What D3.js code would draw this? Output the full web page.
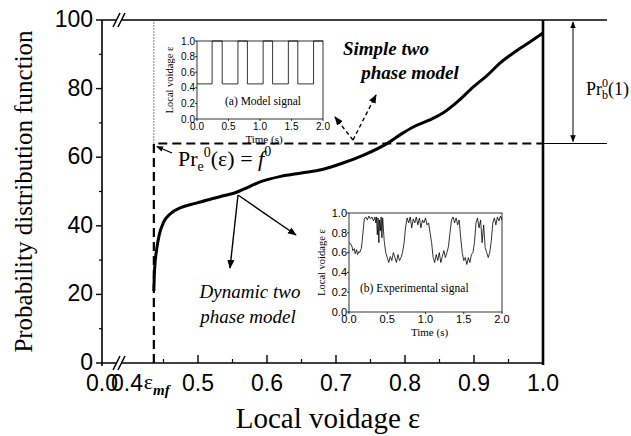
<!DOCTYPE html>
<html>
<head>
<meta charset="utf-8">
<script src="https://cdn.jsdelivr.net/npm/d3@7"></script>
<style>
body { margin: 0; background: #fff; }
.tick-label { font-family: "Liberation Sans", Arial, sans-serif; font-size: 23px; fill: #000; }
.serif { font-family: "Liberation Serif", "Times New Roman", serif; fill: #000; }
.small { font-family: "Liberation Sans", Arial, sans-serif; font-size: 10px; fill: #000; }
</style>
</head>
<body>
<div id="chart"></div>
<script>
// main chart data
const yMajor = [0, 20, 40, 60, 80, 100];
const yMinor = [10, 30, 50, 70, 90];
const xMajor = [0.5, 0.6, 0.7, 0.8, 0.9, 1.0];
const xMinor = [0.45, 0.55, 0.65, 0.75, 0.85, 0.95];
const epsMf = 0.436;
const prE = 64;
const curveEps  = [0.436, 0.437, 0.440, 0.444, 0.450, 0.460, 0.475, 0.490, 0.505, 0.520, 0.540, 0.555, 0.570, 0.590, 0.620, 0.650, 0.680, 0.710, 0.740, 0.775, 0.795, 0.812, 0.835, 0.855, 0.875, 0.899, 0.920, 0.938, 0.960, 0.981, 1.000];
const curveProb = [21, 27, 33, 37.5, 41, 43.5, 45.3, 46.2, 47.0, 47.9, 48.9, 49.7, 51.0, 52.8, 54.4, 55.4, 56.4, 58.3, 60.6, 64.1, 66.8, 68.8, 70.8, 72.9, 76.0, 80.5, 84.0, 87.5, 90.8, 93.6, 96.2];

// inset (a) model signal: switching times, levels
const modelEdges = [0, 0.24, 0.4, 0.65, 0.8, 1.05, 1.2, 1.45, 1.6, 1.85, 2.0];
const modelLow = 0.45, modelHigh = 1.0;

// inset (b) experimental signal
const expTime = [0.00,0.02,0.04,0.05,0.07,0.08,0.10,0.11,0.13,0.14,0.16,0.17,0.19,0.20,0.22,0.24,0.26,0.28,0.30,0.32,0.34,0.35,0.36,0.37,0.38,0.39,0.40,0.41,0.42,0.43,0.44,0.46,0.48,0.50,0.52,0.54,0.56,0.58,0.60,0.62,0.64,0.66,0.68,0.70,0.72,0.74,0.76,0.78,0.80,0.82,0.84,0.86,0.88,0.90,0.92,0.94,0.96,0.98,1.00,1.02,1.04,1.06,1.08,1.10,1.12,1.14,1.16,1.18,1.20,1.22,1.24,1.26,1.28,1.30,1.32,1.34,1.36,1.38,1.40,1.42,1.44,1.46,1.48,1.50,1.52,1.54,1.56,1.58,1.60,1.62,1.64,1.66,1.68,1.70,1.72,1.74,1.76,1.78,1.80,1.82,1.84,1.86,1.88,1.90,1.92,1.94,1.96,1.98,2.00];
const expVoid = [0.70,0.69,0.66,0.62,0.64,0.59,0.63,0.58,0.61,0.60,0.64,0.70,0.86,0.94,0.96,0.93,0.97,0.94,0.96,0.92,0.96,0.90,0.96,0.78,0.95,0.70,0.93,0.82,0.96,0.75,0.95,0.72,0.60,0.55,0.50,0.56,0.52,0.60,0.55,0.50,0.58,0.52,0.55,0.60,0.70,0.86,0.95,0.90,0.96,0.85,0.94,0.90,0.96,0.88,0.95,0.85,0.93,0.90,0.95,0.88,0.90,0.80,0.70,0.55,0.50,0.58,0.52,0.60,0.50,0.56,0.62,0.55,0.60,0.66,0.80,0.93,0.96,0.90,0.95,0.88,0.93,0.75,0.60,0.52,0.55,0.48,0.55,0.50,0.58,0.60,0.70,0.90,0.95,0.85,0.93,0.70,0.88,0.65,0.60,0.55,0.60,0.72,0.90,0.95,0.88,0.96,0.92,0.97,0.93];

const insetX = [0, 0.5, 1.0, 1.5, 2.0];
const insetY = [0, 0.2, 0.4, 0.6, 0.8, 1.0];

const W = 631, H = 436;
const svg = d3.select("#chart").append("svg").attr("width", W).attr("height", H);

const defs = svg.append("defs");
function marker(id, size) {
    defs.append("marker").attr("id", id)
        .attr("viewBox", "0 0 10 10").attr("refX", 9).attr("refY", 5)
        .attr("markerWidth", size).attr("markerHeight", size)
        .attr("markerUnits", "userSpaceOnUse")
        .attr("orient", "auto-start-reverse")
        .append("path").attr("d", "M0,1 L10,5 L0,9 z").attr("fill", "#000");
}
marker("arr", 9);
marker("arrSmall", 7);

const x = d3.scaleLinear().domain([0.4, 1.0]).range([129, 543]);
const y = d3.scaleLinear().domain([0, 100]).range([363, 20]);
const x0 = 102; // position of the 0.0 origin before the break

// frame
svg.append("line").attr("x1", x0).attr("x2", x0).attr("y1", y(100)).attr("y2", y(0) + 3)
    .attr("stroke", "#000").attr("stroke-width", 1.6);
svg.append("line").attr("x1", x0).attr("x2", x(1.0)).attr("y1", y(0)).attr("y2", y(0))
    .attr("stroke", "#000").attr("stroke-width", 1.6);
svg.append("line").attr("x1", x0).attr("x2", 607).attr("y1", y(100)).attr("y2", y(100))
    .attr("stroke", "#000").attr("stroke-width", 1.4);
svg.append("line").attr("x1", x(1.0)).attr("x2", x(1.0)).attr("y1", y(100)).attr("y2", y(0) + 2)
    .attr("stroke", "#000").attr("stroke-width", 2.6);

// axis breaks
[y(0), y(100)].forEach(function(yy) {
    svg.append("rect").attr("x", 117).attr("y", yy - 3).attr("width", 5).attr("height", 6).attr("fill", "#fff");
    [115, 120].forEach(function(bx) {
        svg.append("line").attr("x1", bx - 2).attr("y1", yy + 7).attr("x2", bx + 5).attr("y2", yy - 7)
            .attr("stroke", "#000").attr("stroke-width", 1.6);
    });
});

// y ticks (outward)
yMajor.forEach(function(v) {
    svg.append("line").attr("x1", x0 - 6).attr("x2", x0).attr("y1", y(v)).attr("y2", y(v))
        .attr("stroke", "#000").attr("stroke-width", 1.4);
    svg.append("text").attr("class", "tick-label").attr("x", x0 - 9).attr("y", y(v) - 1)
        .attr("dy", "0.35em").style("text-anchor", "end").text(v);
});
yMinor.forEach(function(v) {
    svg.append("line").attr("x1", x0 - 3).attr("x2", x0).attr("y1", y(v)).attr("y2", y(v))
        .attr("stroke", "#000").attr("stroke-width", 1.2);
});

// x ticks (inward)
xMajor.forEach(function(v) {
    svg.append("line").attr("x1", x(v)).attr("x2", x(v)).attr("y1", y(0)).attr("y2", y(0) - 8)
        .attr("stroke", "#000").attr("stroke-width", 1.4);
    svg.append("text").attr("class", "tick-label").attr("x", x(v)).attr("y", y(0) + 28)
        .style("text-anchor", "middle").text(d3.format(".1f")(v));
});
xMinor.forEach(function(v) {
    svg.append("line").attr("x1", x(v)).attr("x2", x(v)).attr("y1", y(0)).attr("y2", y(0) - 4)
        .attr("stroke", "#000").attr("stroke-width", 1.2);
});
svg.append("text").attr("class", "tick-label").attr("x", x0).attr("y", y(0) + 28)
    .style("text-anchor", "middle").text("0.0");
svg.append("text").attr("class", "tick-label").attr("x", x(0.4) - 2).attr("y", y(0) + 28)
    .style("text-anchor", "middle").text("0.4");
const emfLabel = svg.append("text").attr("class", "serif").attr("x", x(epsMf) - 10).attr("y", y(0) + 26)
    .style("font-size", "22px");
emfLabel.append("tspan").text("ε");
emfLabel.append("tspan").attr("dy", 6).style("font-size", "15px").style("font-style", "italic")
    .style("font-weight", "bold").text("mf");

// axis titles
svg.append("text").attr("class", "serif").attr("x", 328).attr("y", 428)
    .style("text-anchor", "middle").style("font-size", "29px").text("Local voidage ε");
svg.append("text").attr("class", "serif")
    .attr("transform", "translate(32," + ((y(0) + y(100)) / 2) + ") rotate(-90)")
    .style("text-anchor", "middle").style("font-size", "25px").text("Probability distribution function");

// simple two phase model (dashed step)
svg.append("path")
    .attr("d", d3.line()([[x(epsMf), y(0)], [x(epsMf), y(prE)], [x(1.0), y(prE)]]))
    .attr("fill", "none").attr("stroke", "#000").attr("stroke-width", 2.2).attr("stroke-dasharray", "9,5");
svg.append("line").attr("x1", x(epsMf)).attr("x2", x(epsMf)).attr("y1", y(prE)).attr("y2", y(100))
    .attr("stroke", "#000").attr("stroke-width", 1).attr("stroke-dasharray", "1,2");
svg.append("line").attr("x1", x(1.0)).attr("x2", 607).attr("y1", y(prE)).attr("y2", y(prE))
    .attr("stroke", "#000").attr("stroke-width", 1.2);

// dynamic two phase model curve
const curveData = curveEps.map(function(e, i) { return [e, curveProb[i]]; });
svg.append("path").datum(curveData)
    .attr("d", d3.line().x(function(d) { return x(d[0]); }).y(function(d) { return y(d[1]); }).curve(d3.curveMonotoneX))
    .attr("fill", "none").attr("stroke", "#000").attr("stroke-width", 3);

// Pr_b^0(1) double arrow
svg.append("line").attr("x1", 573).attr("x2", 573).attr("y1", y(100) + 2).attr("y2", y(prE) - 2)
    .attr("stroke", "#000").attr("stroke-width", 1)
    .attr("marker-start", "url(#arrSmall)").attr("marker-end", "url(#arrSmall)");
const prb = svg.append("text").attr("class", "serif").attr("x", 586).attr("y", 95).style("font-size", "18px");
prb.append("tspan").text("Pr");
prb.append("tspan").attr("dy", 4).style("font-size", "12px").text("b");
prb.append("tspan").attr("dx", -6).attr("dy", -12).style("font-size", "12px").text("0");
prb.append("tspan").attr("dy", 8).text("(1)");

// Pr_e^0(eps) = f^0
const pre = svg.append("text").attr("class", "serif").attr("x", 178).attr("y", 166).style("font-size", "22px");
pre.append("tspan").text("Pr");
pre.append("tspan").attr("dy", 5).style("font-size", "14px").text("e");
pre.append("tspan").attr("dy", -14).style("font-size", "14px").text("0");
pre.append("tspan").attr("dy", 9).text("(ε) = ");
pre.append("tspan").style("font-style", "italic").text("f");
pre.append("tspan").attr("dy", -10).style("font-size", "14px").text("0");
svg.append("line").attr("x1", 172).attr("y1", 153).attr("x2", x(epsMf) + 3).attr("y2", y(prE) + 3)
    .attr("stroke", "#000").attr("stroke-width", 1.2).attr("marker-end", "url(#arrSmall)");

// annotation: simple two phase model
svg.append("text").attr("class", "serif").attr("x", 386).attr("y", 55)
    .style("text-anchor", "middle").style("font-size", "19px").style("font-style", "italic").style("font-weight", "bold")
    .text("Simple two");
svg.append("text").attr("class", "serif").attr("x", 410).attr("y", 79)
    .style("text-anchor", "middle").style("font-size", "19px").style("font-style", "italic").style("font-weight", "bold")
    .text("phase model");
[[335, 117], [376, 95]].forEach(function(p) {
    svg.append("line").attr("x1", 353).attr("y1", 140).attr("x2", p[0]).attr("y2", p[1])
        .attr("stroke", "#000").attr("stroke-width", 1.4).attr("stroke-dasharray", "4,3")
        .attr("marker-end", "url(#arr)");
});

// annotation: dynamic two phase model
[[230, 268], [296, 235]].forEach(function(p) {
    svg.append("line").attr("x1", 238).attr("y1", 195).attr("x2", p[0]).attr("y2", p[1])
        .attr("stroke", "#000").attr("stroke-width", 1.4).attr("marker-end", "url(#arr)");
});
svg.append("text").attr("class", "serif").attr("x", 250).attr("y", 298)
    .style("text-anchor", "middle").style("font-size", "19px").style("font-style", "italic")
    .text("Dynamic two");
svg.append("text").attr("class", "serif").attr("x", 248).attr("y", 323)
    .style("text-anchor", "middle").style("font-size", "19px").style("font-style", "italic")
    .text("phase model");

// insets
function drawInset(box, label, drawSignal) {
    const ix = d3.scaleLinear().domain([0, 2]).range([box.x0, box.x1]);
    const iy = d3.scaleLinear().domain([0, 1]).range([box.y1, box.y0]);
    const g = svg.append("g");
    g.append("rect").attr("x", box.x0).attr("y", box.y0).attr("width", box.x1 - box.x0).attr("height", box.y1 - box.y0)
        .attr("fill", "#fff").attr("stroke", "#000").attr("stroke-width", 0.8);
    drawSignal(g, ix, iy);
    insetX.forEach(function(v) {
        g.append("line").attr("x1", ix(v)).attr("x2", ix(v)).attr("y1", box.y1).attr("y2", box.y1 + 2)
            .attr("stroke", "#000").attr("stroke-width", 0.8);
        g.append("text").attr("class", "small").style("font-size", box.fs + "px").attr("x", ix(v)).attr("y", box.y1 + 11)
            .style("text-anchor", "middle").text(d3.format(".1f")(v));
    });
    insetY.forEach(function(v) {
        g.append("line").attr("x1", box.x0 - 2).attr("x2", box.x0).attr("y1", iy(v)).attr("y2", iy(v))
            .attr("stroke", "#000").attr("stroke-width", 0.8);
        g.append("text").attr("class", "small").style("font-size", box.fs + "px").attr("x", box.x0 - 2).attr("y", iy(v))
            .attr("dy", "0.35em").style("text-anchor", "end").text(d3.format(".1f")(v));
    });
    g.append("text").attr("class", "serif").attr("x", (box.x0 + box.x1) / 2 + 4).attr("y", box.y1 + 24)
        .style("text-anchor", "middle").style("font-size", "11px").text("Time (s)");
    g.append("text").attr("class", "serif")
        .attr("transform", "translate(" + (box.x0 - 24) + "," + ((box.y0 + box.y1) / 2) + ") rotate(-90)")
        .style("text-anchor", "middle").style("font-size", "10.5px").text("Local voidage ε");
    g.append("text").attr("class", "serif").attr("x", box.lx).attr("y", box.ly)
        .style("font-size", "11.5px").text(label);
}

drawInset({x0: 197, x1: 323, y0: 41, y1: 119, lx: 225, ly: 105, fs: 10}, "(a)  Model signal", function(g, ix, iy) {
    const pts = [];
    for (let i = 0; i < modelEdges.length - 1; i++) {
        const lv = i % 2 === 0 ? modelLow : modelHigh;
        pts.push([ix(modelEdges[i]), iy(lv)], [ix(modelEdges[i + 1]), iy(lv)]);
    }
    g.append("path").attr("d", d3.line()(pts)).attr("fill", "none").attr("stroke", "#000").attr("stroke-width", 0.8);
});

drawInset({x0: 349, x1: 502, y0: 213, y1: 312, lx: 360, ly: 292, fs: 11}, "(b)  Experimental signal", function(g, ix, iy) {
    const data = expTime.map(function(t, i) { return [t, expVoid[i]]; });
    g.append("path").datum(data)
        .attr("d", d3.line().x(function(d) { return ix(d[0]); }).y(function(d) { return iy(d[1]); }))
        .attr("fill", "none").attr("stroke", "#000").attr("stroke-width", 0.8);
});
</script>
</body>
</html>
